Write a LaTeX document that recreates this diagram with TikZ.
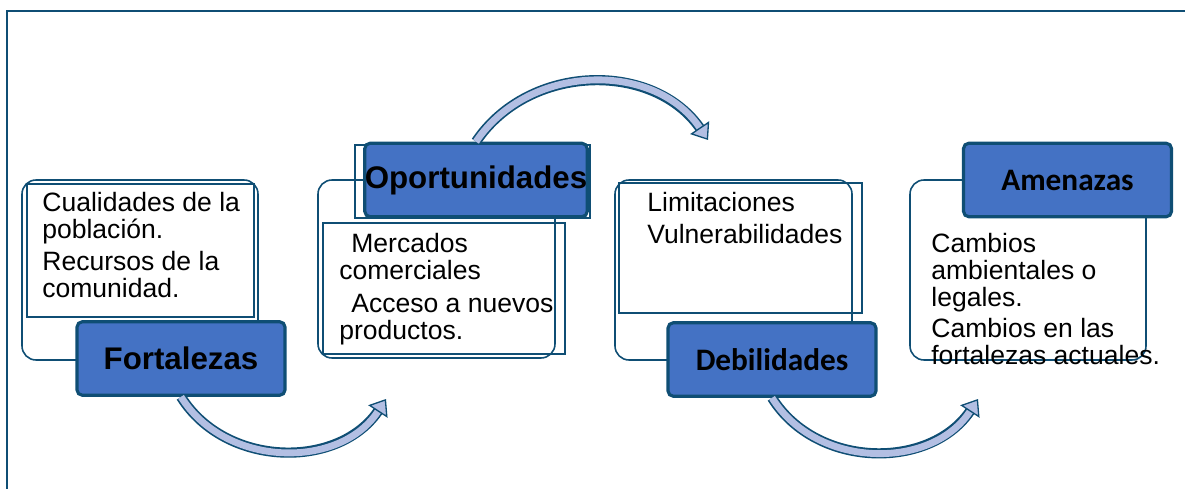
\documentclass[tikz,border=0pt]{standalone}
\usepackage{fontspec}
\setmainfont{Liberation Sans}
\newfontfamily\calibrifont{Carlito}
\usetikzlibrary{arrows.meta}

\begin{document}
\begin{tikzpicture}[
    x=0.02cm, y=0.02cm,
    every node/.style={inner sep=0pt},
]

% ---------------------------------------------------------------- colours
\definecolor{c1}{HTML}{4472C4}   % heading boxes
\definecolor{c2}{HTML}{0F4E74}   % every outline
\definecolor{c3}{HTML}{B3BFE3}   % body of the curved arrows

\tikzset{
    headbox/.style={rectangle, rounded corners=3pt, draw=c2, line width=1.8pt,
                    fill=c1, minimum width=4.16cm, minimum height=1.47cm},
    headtext/.style={font=\fontsize{17.8}{20}\selectfont\bfseries},
    headcal/.style={font=\calibrifont\fontsize{17.8}{20}\selectfont\bfseries},
    listtext/.style={anchor=north west, align=left,
                     font=\fontsize{15.1}{15.3}\selectfont},
    panel/.style={draw=c2, line width=0.9pt, rounded corners=8pt},
    sheet/.style={draw=c2, line width=0.7pt},
    bandedge/.style={draw=c2, line width=5.8pt, shorten >=7pt},
    bandfill/.style={draw=c3, line width=3.9pt,
                     -{Triangle[color=c2, fill=c3, line width=0.75pt,
                                length=8.5pt, width=13pt]}},
}

% ================================================================
% GEOMETRY (1 unit = 1 pixel of the figure, y counted upwards)
%   panels       y = 129 .. 309
%   lower boxes  centre y = 130,  upper boxes centre y = 309
%   columns      x = 22, 318, 615, 910
% ================================================================
\useasboundingbox (0, 0) rectangle (1185, 489);

% ---------------------------------------------------------------- frame
\draw[c2, line width=1.1pt] (7, -20) -- (7, 478) -- (1200, 478);

% ---------------------------------------------------------------- fortalezas
\draw[panel] (22, 129) rectangle (258, 309);
\draw[sheet] (27, 172) rectangle (254, 305);
\node[listtext] (fortlist) at (42, 297)
    {Cualidades de la\\población.\\[3pt]Recursos de la\\comunidad.};
\node[headbox, headtext] (fort) at (181, 130.5) {Fortalezas};

% ---------------------------------------------------------------- oportunidades
\draw[panel] (318, 131) rectangle (555, 309);
\draw[sheet] (323, 135) rectangle (565, 266);
\draw[sheet] (355, 271) rectangle (590, 344);
\node[listtext] (oporlist) at (339, 256)
    {\hspace*{0.24cm}Mercados\\comerciales\\[3.5pt]%
     \hspace*{0.24cm}Acceso a nuevos\\productos.};
\node[headbox, headtext] (opor) at (476, 309) {Oportunidades};

% ---------------------------------------------------------------- debilidades
\draw[panel] (615, 129) rectangle (852, 309);
\draw[sheet] (619, 176) rectangle (862, 306);
\node[listtext] (debilist) at (647, 297)
    {Limitaciones\\[3pt]Vulnerabilidades};
\node[headbox, headcal] (debi) at (772, 129.5) {Debilidades};

% ---------------------------------------------------------------- amenazas
\draw[panel] (910, 129) rectangle (1146, 309);
\node[listtext] (amenlist) at (931, 256)
    {Cambios\\ambientales o\\legales.\\[2.5pt]Cambios en las\\fortalezas actuales.};
\node[headbox, headcal] (amen) at (1067.5, 309) {Amenazas};

% ---------------------------------------------------------------- arrows
\coordinate (tip1) at (386, 90);
\coordinate (tip2) at (708, 349);
\coordinate (tip3) at (978, 90);

\draw[bandedge] (fort.south) to[out=-58, in=-123, looseness=1.05] (tip1);
\draw[bandfill] (fort.south) to[out=-58, in=-123, looseness=1.05] (tip1);

\draw[bandedge] (opor.north) to[out=56, in=124, looseness=1.05] (tip2);
\draw[bandfill] (opor.north) to[out=56, in=124, looseness=1.05] (tip2);

\draw[bandedge] (debi.south) to[out=-58, in=-123, looseness=1.05] (tip3);
\draw[bandfill] (debi.south) to[out=-58, in=-123, looseness=1.05] (tip3);

\end{tikzpicture}
\end{document}
